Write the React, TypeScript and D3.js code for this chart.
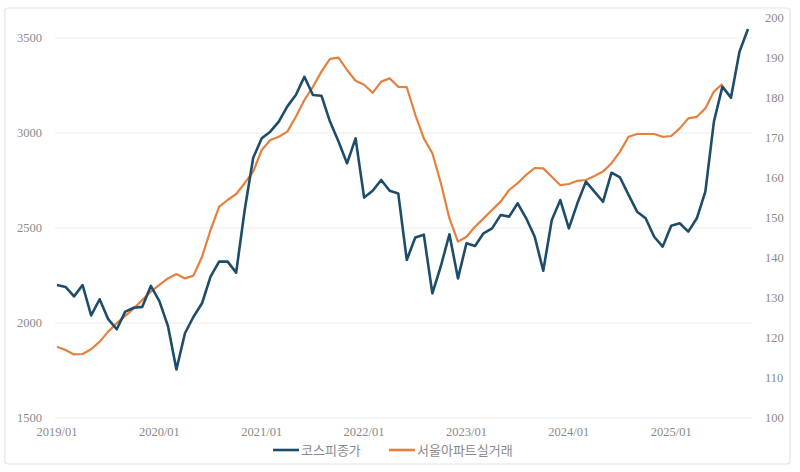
import * as d3 from "d3";

// KOSPI monthly close, 2019/01 .. 2025/10
const kospi = [
  2200, 2190, 2140, 2200, 2040, 2125, 2020, 1967, 2060, 2080, 2085, 2195,
  2115, 1985, 1755, 1946, 2033, 2104, 2244, 2323, 2323, 2265, 2595, 2870,
  2972, 3007, 3060, 3140, 3200, 3296, 3200, 3196, 3060, 2955, 2840, 2972,
  2660, 2696, 2753, 2696, 2682, 2332, 2450, 2465, 2156, 2300, 2467, 2235,
  2420, 2405, 2472, 2498, 2568, 2560, 2630, 2551, 2454, 2275, 2542, 2647,
  2498, 2630, 2744, 2691, 2638, 2791, 2766, 2674, 2586, 2551, 2454, 2402,
  2512, 2525, 2481, 2551, 2691, 3059, 3244, 3186, 3428, 3547,
];

// Seoul apartment real transaction price index, 2019/01 .. 2025/07
const seoulApt = [
  117.8, 117, 115.9, 116, 117.2, 119.1, 121.6, 123.7, 125.5, 127.4, 129.5, 131.6,
  133.3, 134.9, 136, 134.9, 135.6, 140.3, 147, 152.8, 154.5, 156, 158.7, 161.6,
  167, 169.5, 170.3, 171.6, 175.3, 179.5, 182.8, 186.6, 189.8, 190.1, 187, 184.3,
  183.3, 181.3, 184.1, 184.9, 182.8, 182.7, 175.8, 169.9, 166.2, 158.7, 149.9, 144.1,
  145.3, 147.8, 149.9, 152, 154.1, 157, 158.7, 160.8, 162.5, 162.4, 160.3, 158.2,
  158.5, 159.3, 159.5, 160.5, 161.6, 163.7, 166.6, 170.3, 171, 171, 171, 170.3,
  170.5, 172.4, 174.9, 175.3, 177.4, 181.6, 183.5,
];

const xLabels = ["2019/01", "2020/01", "2021/01", "2022/01", "2023/01", "2024/01", "2025/01"];
const leftTicks = [1500, 2000, 2500, 3000, 3500];
const rightTicks = [100, 110, 120, 130, 140, 150, 160, 170, 180, 190, 200];

const BLUE = "#1e4d6b";
const ORANGE = "#e5803f";

export default function App() {
  const x = d3.scaleLinear().domain([0, 81]).range([57, 748]);
  const yL = d3.scaleLinear().domain([1500, 3500]).range([418, 38]);
  const yR = d3.scaleLinear().domain([100, 200]).range([418, 18]);

  const kospiLine = d3
    .line<number>()
    .x((_, i) => x(i))
    .y((d) => yL(d));
  const aptLine = d3
    .line<number>()
    .x((_, i) => x(i))
    .y((d) => yR(d));

  const tickFont = "Liberation Serif, DejaVu Serif, serif";

  return (
    <>
      <style>{`body{margin:0}`}</style>
      <svg width={800} height={472} style={{ display: "block" }}>
        <rect x={0} y={0} width={800} height={472} fill="#fff" />
        <rect x={5} y={8} width={785} height={456} rx={3} fill="#fff" stroke="#e3e3e3" strokeWidth={1.2} />

        {leftTicks.map((t) => (
          <line key={"g" + t} x1={55} x2={752} y1={yL(t)} y2={yL(t)} stroke="#ececec" strokeWidth={1.2} />
        ))}

        {leftTicks.map((t) => (
          <text key={"l" + t} x={42} y={yL(t) + 4} textAnchor="end" fontSize={12.5} fill="#8a8a8a" fontFamily={tickFont}>
            {t}
          </text>
        ))}

        {rightTicks.map((t) => (
          <text key={"r" + t} x={765} y={yR(t) + 4} textAnchor="start" fontSize={12.5} fill="#8a8a8a" fontFamily={tickFont}>
            {t}
          </text>
        ))}

        {xLabels.map((lab, i) => (
          <text key={lab} x={x(i * 12)} y={436} textAnchor="middle" fontSize={12.5} fill="#8a8a8a" fontFamily={tickFont}>
            {lab}
          </text>
        ))}

        <path d={aptLine(seoulApt) ?? ""} fill="none" stroke={ORANGE} strokeWidth={2.2} strokeLinejoin="round" />
        <path d={kospiLine(kospi) ?? ""} fill="none" stroke={BLUE} strokeWidth={2.6} strokeLinejoin="round" />

        <g fontFamily="'Noto Sans CJK KR', sans-serif" fontSize={13} fill="#8a8a8a">
          <line x1={273} x2={299} y1={450} y2={450} stroke={BLUE} strokeWidth={2.6} />
          <text x={301} y={455}>코스피종가</text>
          <line x1={389} x2={415} y1={450} y2={450} stroke={ORANGE} strokeWidth={2.6} />
          <text x={417} y={455}>서울아파트실거래</text>
        </g>
      </svg>
    </>
  );
}
